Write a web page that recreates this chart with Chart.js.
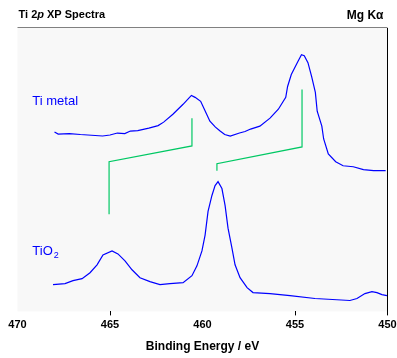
<!DOCTYPE html>
<html>
<head>
<meta charset="utf-8">
<script src="https://cdn.jsdelivr.net/npm/chart.js@4.4.1/dist/chart.umd.min.js"></script>
<style>
  html, body { margin: 0; padding: 0; background: #fff; }
  #wrap { width: 397px; height: 358px; }
</style>
</head>
<body>
<div id="wrap"><canvas id="chart"></canvas></div>
<script>
// Binding energy (eV) and intensity (arb. units)
const tiMetalEnergy = [468.0, 467.8, 467.2, 466.6, 466.2, 465.8, 465.4, 465.0, 464.6, 464.2, 463.9, 463.5, 462.9, 462.4, 462.1, 461.6, 461.05, 460.8, 460.6, 460.4, 460.1, 459.9, 459.6, 459.3, 459.05, 458.8, 458.5, 458.0, 457.7, 457.4, 456.9, 456.35, 455.9, 455.5, 455.4, 455.2, 454.85, 454.65, 454.5, 454.3, 454.1, 453.9, 453.8, 453.55, 453.45, 453.2, 452.8, 452.4, 451.85, 451.3, 450.75, 450.1];
const tiMetalCounts = [181, 179, 179.5, 178.5, 178, 177.5, 177, 178, 180, 179.5, 182, 182.5, 185, 187.5, 191, 199, 209, 214, 218, 216, 212, 204, 192, 186, 182, 178.5, 177, 180, 181.5, 184, 187, 195, 204, 216, 227, 239, 252, 259, 258, 251, 237, 221, 202, 187, 174, 159, 151, 147, 146, 143, 142, 142];

const tio2Energy = [468.08, 467.43, 467.0, 466.51, 466.08, 465.7, 465.38, 464.89, 464.57, 464.19, 463.81, 463.38, 462.84, 462.3, 461.76, 461.05, 460.57, 460.3, 460.03, 459.86, 459.7, 459.49, 459.32, 459.16, 458.95, 458.78, 458.62, 458.41, 458.24, 457.97, 457.59, 457.27, 456.35, 455.27, 453.92, 452.03, 451.65, 451.22, 450.84, 450.57, 450.3, 450.03];
const tio2Counts = [27, 28, 31, 33, 39, 47, 57, 61, 58, 51, 42, 34, 30, 27, 28, 29, 36, 46, 61, 77, 101, 117, 127, 131, 124, 107, 84, 64, 47, 34, 24, 19, 18, 16, 13, 11, 13, 18, 20, 19, 17, 16];

// chemical shift markers (green)
const shiftLeftEnergy = [465.05, 465.05, 460.57, 460.57];
const shiftLeftCounts = [98, 151, 167, 195];
const shiftRightEnergy = [459.22, 459.22, 454.62, 454.62];
const shiftRightCounts = [142, 149, 166, 224];

const xTicks = [470, 465, 460, 455, 450];
const tickMarks = [465, 455];

function pts(xs, ys) {
  return xs.map((x, i) => ({ x: x, y: ys[i] }));
}

const blue = "#0000ff";
const green = "#00c864";

const framePlugin = {
  id: "frame",
  beforeDraw(chart) {
    const { ctx, chartArea: a } = chart;
    ctx.save();
    ctx.fillStyle = "#ffffff";
    ctx.fillRect(0, 0, chart.width, chart.height);
    ctx.fillStyle = "#f8f8f8";
    ctx.fillRect(a.left, a.top, a.right - a.left, a.bottom - a.top);
    ctx.strokeStyle = "#808080";
    ctx.lineWidth = 1;
    ctx.beginPath();
    ctx.moveTo(a.left, a.top - 0.5);
    ctx.lineTo(a.right, a.top - 0.5);
    ctx.stroke();
    ctx.restore();
  },
  afterDraw(chart) {
    const { ctx, chartArea: a, scales } = chart;
    const xs = scales.x, ys = scales.y;
    ctx.save();
    // right frame line
    ctx.strokeStyle = "#000";
    ctx.lineWidth = 1;
    ctx.beginPath();
    ctx.moveTo(Math.round(a.right) - 0.5, a.top);
    ctx.lineTo(Math.round(a.right) - 0.5, a.bottom + 4);
    ctx.stroke();

    // header texts
    ctx.fillStyle = "#000";
    ctx.textBaseline = "alphabetic";
    ctx.textAlign = "left";
    ctx.font = "bold 11px 'Liberation Sans', Arial, sans-serif";
    let x = a.left + 1;
    ctx.fillText("Ti 2", x, 18);
    x += ctx.measureText("Ti 2").width;
    ctx.font = "italic bold 11px 'Liberation Sans', Arial, sans-serif";
    ctx.fillText("p", x, 18);
    x += ctx.measureText("p").width;
    ctx.font = "bold 11px 'Liberation Sans', Arial, sans-serif";
    ctx.fillText(" XP Spectra", x, 18);
    ctx.textAlign = "right";
    ctx.font = "bold 12px 'Liberation Sans', Arial, sans-serif";
    ctx.fillText("Mg K\u03b1", a.right - 4, 19);

    // series labels
    ctx.fillStyle = blue;
    ctx.textAlign = "left";
    ctx.font = "13px 'Liberation Sans', Arial, sans-serif";
    ctx.fillText("Ti metal", xs.getPixelForValue(469.2), ys.getPixelForValue(208));
    const tx = xs.getPixelForValue(469.2), ty = ys.getPixelForValue(57);
    ctx.fillText("TiO", tx, ty);
    const w = ctx.measureText("TiO").width;
    ctx.font = "9px 'Liberation Sans', Arial, sans-serif";
    ctx.fillText("2", tx + w + 1, ty + 3);
    ctx.restore();
  }
};

new Chart(document.getElementById("chart"), {
  type: "line",
  data: {
    datasets: [
      { data: pts(tiMetalEnergy, tiMetalCounts), borderColor: blue, borderWidth: 1.2 },
      { data: pts(tio2Energy, tio2Counts), borderColor: blue, borderWidth: 1.2 },
      { data: pts(shiftLeftEnergy, shiftLeftCounts), borderColor: green, borderWidth: 1.2 },
      { data: pts(shiftRightEnergy, shiftRightCounts), borderColor: green, borderWidth: 1.2 }
    ]
  },
  options: {
    responsive: true,
    maintainAspectRatio: false,
    animation: false,
    devicePixelRatio: 1,
    layout: { padding: { left: 17.5, right: 9.5, top: 28, bottom: 0 } },
    elements: { point: { radius: 0 }, line: { tension: 0, fill: false } },
    plugins: { legend: { display: false }, tooltip: { enabled: false } },
    scales: {
      x: {
        type: "linear",
        reverse: true,
        min: 450,
        max: 470,
        afterBuildTicks: (axis) => { axis.ticks = xTicks.map(v => ({ value: v })); },
        afterFit: (axis) => { axis.paddingLeft = 0; axis.paddingRight = 0; },
        ticks: {
          color: "#000",
          padding: 3,
          maxRotation: 0,
          font: { family: "'Liberation Sans', Arial, sans-serif", size: 11, weight: "bold" }
        },
        grid: {
          drawOnChartArea: false,
          drawTicks: true,
          tickLength: 4,
          color: (c) => (c.tick && tickMarks.includes(c.tick.value)) ? "#000" : "rgba(0,0,0,0)"
        },
        border: { display: false },
        title: {
          display: true,
          text: "Binding Energy / eV",
          color: "#000",
          padding: { top: 5, bottom: 4 },
          font: { family: "'Liberation Sans', Arial, sans-serif", size: 12, weight: "bold" }
        }
      },
      y: { display: false, min: 0, max: 286 }
    }
  },
  plugins: [framePlugin]
});
</script>
</body>
</html>
